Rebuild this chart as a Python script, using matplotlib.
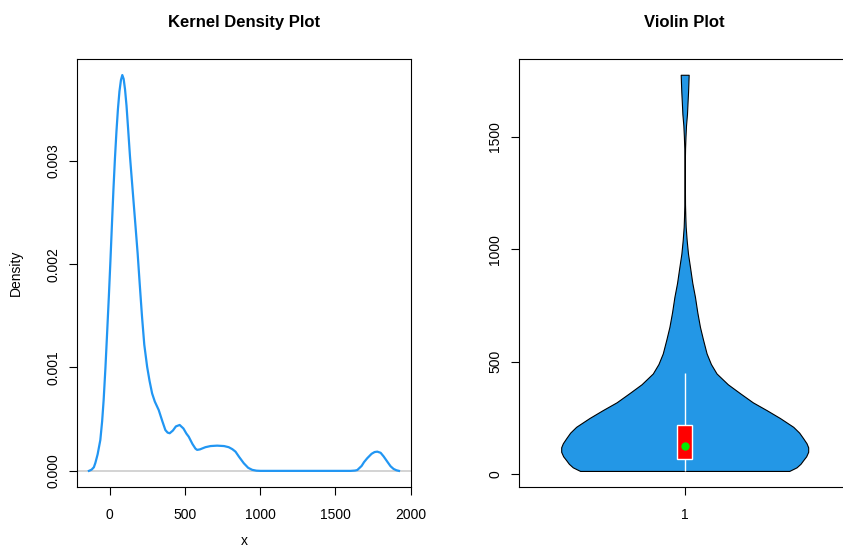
import matplotlib.pyplot as plt
import numpy as np

plt.rcParams['font.family'] = ['Liberation Sans', 'DejaVu Sans']

# kernel density curve
dens_x = [-138, -133, -120, -105, -95, -80, -62, -50, -40, -28, -17, -5, 5, 15, 25, 35, 45, 55,
          65, 75, 84, 93, 102, 112, 122, 135, 148, 160, 172, 186, 200, 215, 230, 249, 265,
          282, 300, 326, 350, 370, 385, 399, 420, 440, 465, 490, 510, 525, 550, 570, 581,
          600, 636, 670, 714, 760, 791, 815, 836, 860, 891, 920, 947, 975, 1002, 1600, 1630,
          1645, 1674, 1690, 1711, 1740, 1760, 1778, 1800, 1820, 1844, 1866, 1886, 1905, 1922]
dens_y = [0.0, 0.003, 0.012, 0.035, 0.077, 0.16, 0.299, 0.48, 0.685, 1.0, 1.331, 1.70, 2.03,
          2.38, 2.72, 3.02, 3.28, 3.50, 3.67, 3.78, 3.828, 3.79, 3.69, 3.53, 3.32, 3.04, 2.80,
          2.58, 2.36, 2.10, 1.80, 1.49, 1.22, 1.006, 0.87, 0.749, 0.67, 0.588, 0.48, 0.395,
          0.37, 0.364, 0.39, 0.43, 0.444, 0.41, 0.36, 0.331, 0.26, 0.215, 0.203, 0.208, 0.229,
          0.24, 0.244, 0.24, 0.229, 0.21, 0.186, 0.135, 0.074, 0.03, 0.01, 0.002, 0.0, 0.0,
          0.003, 0.008, 0.048, 0.085, 0.122, 0.165, 0.182, 0.186, 0.175, 0.14, 0.09, 0.045,
          0.019, 0.006, 0.0]
dens_y = [v / 1000 for v in dens_y]

# violin outline: value and half width (x units)
vio_y = [15, 31, 47, 63, 80, 100, 120, 138, 160, 185, 211, 250, 285, 320, 360, 400, 448,
         490, 537, 600, 655, 720, 788, 850, 921, 980, 1040, 1100, 1143, 1200, 1300, 1400,
         1450, 1500, 1550, 1600, 1650, 1700, 1740, 1775]
vio_hw = [0.315, 0.337, 0.349, 0.357, 0.366, 0.372, 0.372, 0.367, 0.357, 0.345, 0.327, 0.287,
          0.247, 0.205, 0.167, 0.13, 0.096, 0.079, 0.066, 0.055, 0.046, 0.038, 0.031, 0.023,
          0.016, 0.010, 0.006, 0.003, 0.002, 0.001, 0.0006, 0.0006, 0.0012, 0.0024, 0.004,
          0.0069, 0.0085, 0.0102, 0.0112, 0.012]

# box stats
whisk_lo, q1, med, q3, whisk_hi = 15, 67, 127, 218, 448

fig = plt.figure(figsize=(8.43, 5.51), dpi=100)

# ---- left: kernel density
ax1 = fig.add_axes([0.0917, 0.1167, 0.3955, 0.7762])
ax1.axhline(0, color='#cccccc', lw=1.2, zorder=1)
ax1.plot(dens_x, dens_y, color='#2196F3', lw=1.6, zorder=2)
ax1.set_xlim(-215, 2000)
ax1.set_ylim(-0.000153, 0.003983)
ax1.set_xticks([0, 500, 1000, 1500, 2000])
ax1.set_yticks([0, 0.001, 0.002, 0.003])
ax1.set_yticklabels(['0.000', '0.001', '0.002', '0.003'], rotation=90, va='center')
ax1.set_title('Kernel Density Plot', fontsize=12, fontweight='bold', pad=23)
ax1.set_ylabel('Density', fontsize=10, labelpad=17)
ax1.set_xlabel('x', fontsize=10, labelpad=9)

# ---- right: violin
ax2 = fig.add_axes([0.6153, 0.1167, 0.3938, 0.7762])
vy = np.array(vio_y)
hw = np.array(vio_hw)
ax2.fill_betweenx(vy, 1 - hw, 1 + hw, facecolor='#2397E6', edgecolor='black', lw=0.8, zorder=2)
ax2.vlines(1, whisk_lo, whisk_hi, color='white', lw=1.0, zorder=3)
ax2.bar(1, q3 - q1, bottom=q1, width=0.046, color='red', edgecolor='white', lw=1.0, zorder=4)
ax2.plot(1, med, 'o', color='#00ee00', ms=5, zorder=5)
ax2.set_xlim(0.5, 1.5)
ax2.set_ylim(-55, 1845)
ax2.set_xticks([1])
ax2.set_xticklabels(['1'])
ax2.set_yticks([0, 500, 1000, 1500])
ax2.set_yticklabels(['0', '500', '1000', '1500'], rotation=90, va='center')
ax2.set_title('Violin Plot', fontsize=12, fontweight='bold', pad=23)

for ax in (ax1, ax2):
    ax.tick_params(axis='both', direction='out', length=6, width=0.8, labelsize=10)
    ax.tick_params(axis='x', pad=9)
    ax.tick_params(axis='y', pad=6)
    for s in ax.spines.values():
        s.set_linewidth(0.8)

fig.savefig('out.png', dpi=100)
